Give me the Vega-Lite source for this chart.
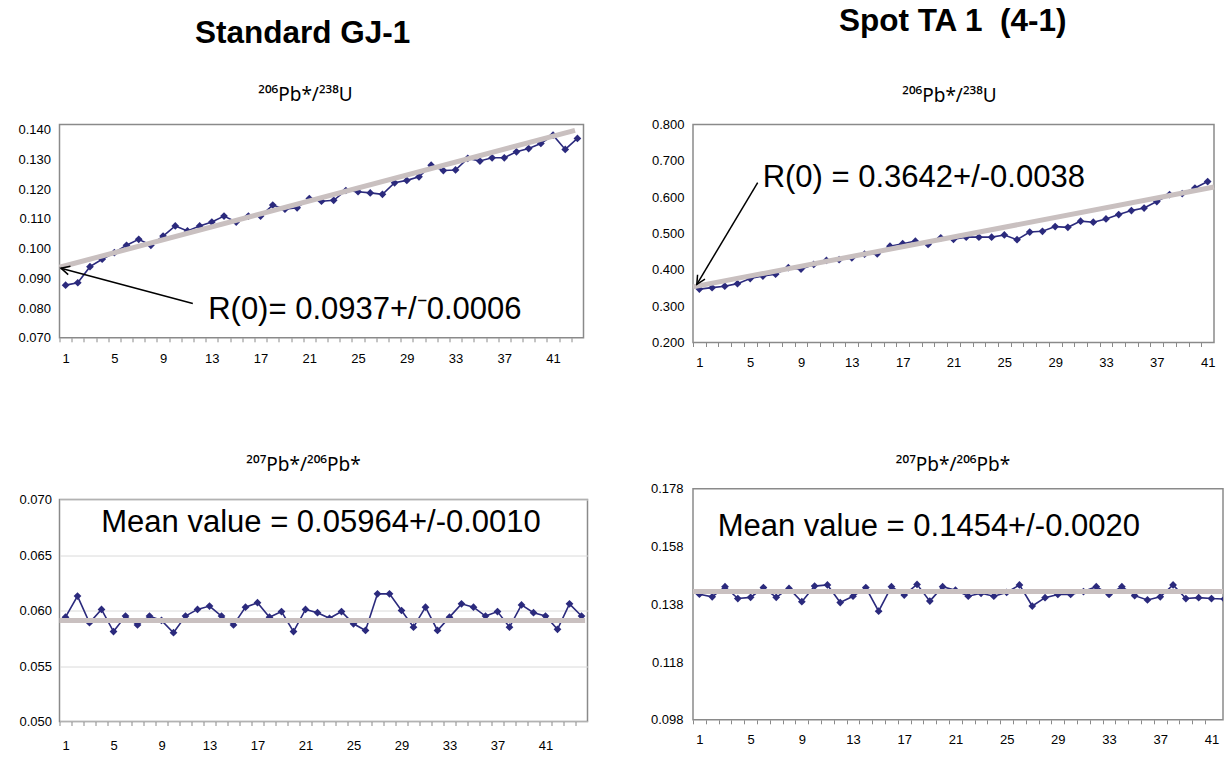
{
  "$schema": "https://vega.github.io/schema/vega-lite/v6.json",
  "background": "white",
  "padding": {"left": 16.5, "top": 5.5, "right": 0, "bottom": 0},
  "config": {
    "view": {"stroke": "#8a8a8a", "strokeWidth": 1.5},
    "font": "Liberation Sans",
    "title": {"font": "Noto Sans, DejaVu Sans", "fontSize": 19, "fontWeight": "normal", "color": "black", "anchor": "middle", "frame": "group"},
    "axis": {"labelFont": "Liberation Sans", "labelFontSize": 13, "labelColor": "black", "ticks": false, "domain": false, "grid": false, "title": null, "labelOverlap": false, "labelFlush": false}
  },
  "datasets": {
    "tl": [
      {"i":1,"v":0.0877},{"i":2,"v":0.0885},{"i":3,"v":0.0939},{"i":4,"v":0.0964},{"i":5,"v":0.0986},{"i":6,"v":0.1011},{"i":7,"v":0.1031},{"i":8,"v":0.1011},{"i":9,"v":0.1042},{"i":10,"v":0.1076},
      {"i":11,"v":0.1059},{"i":12,"v":0.1076},{"i":13,"v":0.1089},{"i":14,"v":0.1109},{"i":15,"v":0.1089},{"i":16,"v":0.1109},{"i":17,"v":0.1109},{"i":18,"v":0.1146},{"i":19,"v":0.1132},{"i":20,"v":0.1137},
      {"i":21,"v":0.1168},{"i":22,"v":0.1159},{"i":23,"v":0.1162},{"i":24,"v":0.1195},{"i":25,"v":0.1191},{"i":26,"v":0.1187},{"i":27,"v":0.1182},{"i":28,"v":0.1221},{"i":29,"v":0.1229},{"i":30,"v":0.1241},
      {"i":31,"v":0.1280},{"i":32,"v":0.1262},{"i":33,"v":0.1264},{"i":34,"v":0.1303},{"i":35,"v":0.1294},{"i":36,"v":0.1305},{"i":37,"v":0.1305},{"i":38,"v":0.1325},{"i":39,"v":0.1336},{"i":40,"v":0.1353},
      {"i":41,"v":0.1381},{"i":42,"v":0.1333},{"i":43,"v":0.1370}
    ],
    "tl_fit": [{"i":0.5,"v":0.0937},{"i":42.8,"v":0.1397}],
    "tl_note": [{"i":12.7,"v":0.0762,"label":"R(0)= 0.0937+/⁻0.0006"}],
    "tl_arrow": [{"i":11.44,"v":0.0815,"i2":0.62,"v2":0.0934}],
    "tr": [
      {"i":1,"v":0.347},{"i":2,"v":0.351},{"i":3,"v":0.355},{"i":4,"v":0.362},{"i":5,"v":0.376},{"i":6,"v":0.383},{"i":7,"v":0.388},{"i":8,"v":0.406},{"i":9,"v":0.402},{"i":10,"v":0.415},
      {"i":11,"v":0.426},{"i":12,"v":0.428},{"i":13,"v":0.433},{"i":14,"v":0.443},{"i":15,"v":0.444},{"i":16,"v":0.465},{"i":17,"v":0.472},{"i":18,"v":0.479},{"i":19,"v":0.470},{"i":20,"v":0.488},
      {"i":21,"v":0.484},{"i":22,"v":0.490},{"i":23,"v":0.490},{"i":24,"v":0.490},{"i":25,"v":0.496},{"i":26,"v":0.483},{"i":27,"v":0.504},{"i":28,"v":0.506},{"i":29,"v":0.519},{"i":30,"v":0.517},
      {"i":31,"v":0.534},{"i":32,"v":0.531},{"i":33,"v":0.540},{"i":34,"v":0.552},{"i":35,"v":0.563},{"i":36,"v":0.570},{"i":37,"v":0.588},{"i":38,"v":0.607},{"i":39,"v":0.610},{"i":40,"v":0.625},
      {"i":41,"v":0.643}
    ],
    "tr_fit": [{"i":0.5,"v":0.353},{"i":41.5,"v":0.628}],
    "tr_note": [{"i":5.98,"v":0.628,"label":"R(0) = 0.3642+/-0.0038"}],
    "tr_arrow": [{"i":5.59,"v":0.64,"i2":0.8,"v2":0.36}],
    "bl": [
      {"i":1,"v":0.0594},{"i":2,"v":0.0613},{"i":3,"v":0.0589},{"i":4,"v":0.0601},{"i":5,"v":0.0581},{"i":6,"v":0.0595},{"i":7,"v":0.0587},{"i":8,"v":0.0595},{"i":9,"v":0.0591},{"i":10,"v":0.0580},
      {"i":11,"v":0.0595},{"i":12,"v":0.0601},{"i":13,"v":0.0604},{"i":14,"v":0.0595},{"i":15,"v":0.0587},{"i":16,"v":0.0603},{"i":17,"v":0.0607},{"i":18,"v":0.0594},{"i":19,"v":0.0599},{"i":20,"v":0.0581},
      {"i":21,"v":0.0601},{"i":22,"v":0.0598},{"i":23,"v":0.0593},{"i":24,"v":0.0599},{"i":25,"v":0.0588},{"i":26,"v":0.0582},{"i":27,"v":0.0615},{"i":28,"v":0.0615},{"i":29,"v":0.0600},{"i":30,"v":0.0585},
      {"i":31,"v":0.0603},{"i":32,"v":0.0582},{"i":33,"v":0.0594},{"i":34,"v":0.0606},{"i":35,"v":0.0603},{"i":36,"v":0.0595},{"i":37,"v":0.0599},{"i":38,"v":0.0585},{"i":39,"v":0.0605},{"i":40,"v":0.0598},
      {"i":41,"v":0.0595},{"i":42,"v":0.0583},{"i":43,"v":0.0606},{"i":44,"v":0.0595}
    ],
    "bl_fit": [{"i":0.5,"v":0.0591},{"i":44.3,"v":0.0591}],
    "bl_note": [{"i":3.98,"v":0.0671,"label":"Mean value = 0.05964+/-0.0010"}],
    "br": [
      {"i":1,"v":0.1415},{"i":2,"v":0.1406},{"i":3,"v":0.1441},{"i":4,"v":0.1400},{"i":5,"v":0.1404},{"i":6,"v":0.1438},{"i":7,"v":0.1404},{"i":8,"v":0.1435},{"i":9,"v":0.1389},{"i":10,"v":0.1443},
      {"i":11,"v":0.1447},{"i":12,"v":0.1386},{"i":13,"v":0.1408},{"i":14,"v":0.1438},{"i":15,"v":0.1356},{"i":16,"v":0.1441},{"i":17,"v":0.1412},{"i":18,"v":0.1449},{"i":19,"v":0.1391},{"i":20,"v":0.1441},
      {"i":21,"v":0.1429},{"i":22,"v":0.1408},{"i":23,"v":0.1418},{"i":24,"v":0.1408},{"i":25,"v":0.1421},{"i":26,"v":0.1447},{"i":27,"v":0.1374},{"i":28,"v":0.1403},{"i":29,"v":0.1414},{"i":30,"v":0.1414},
      {"i":31,"v":0.1424},{"i":32,"v":0.1441},{"i":33,"v":0.1414},{"i":34,"v":0.1441},{"i":35,"v":0.1410},{"i":36,"v":0.1395},{"i":37,"v":0.1406},{"i":38,"v":0.1447},{"i":39,"v":0.1400},{"i":40,"v":0.1403},
      {"i":41,"v":0.1400},{"i":42,"v":0.1398}
    ],
    "br_fit": [{"i":0.5,"v":0.1424},{"i":42,"v":0.1424}],
    "br_note": [{"i":2.43,"v":0.1615,"label":"Mean value = 0.1454+/-0.0020"}]
  },
  "hconcat": [
    {
      "title": {"text": [" ", "Standard GJ-1"], "lineHeight": 10, "font": "Liberation Sans", "fontSize": 31.5, "fontWeight": "bold", "offset": 36, "dx": -4, "frame": "bounds"},
      "spacing": 87,
      "vconcat": [
        {
          "width": 524, "height": 213.3,
          "title": {"text": "²⁰⁶Pb*/²³⁸U", "offset": 15.2, "dx": -16},
          "layer": [
            {
              "data": {"name": "tl"},
              "mark": {"type": "line", "color": "#2b2a7d", "strokeWidth": 1.6, "point": {"shape": "diamond", "size": 60, "filled": true, "color": "#2b2a7d", "opacity": 1}},
              "encoding": {
                "x": {"field": "i", "type": "quantitative", "scale": {"domain": [0.5, 43.5], "nice": false, "zero": false},
                      "axis": {"tickCount": 43, "ticks": true, "tickSize": 4, "tickColor": "#8a8a8a", "tickOffset": -6.1, "labelOffset": 6.1, "labelPadding": 11, "labelOverlap": false, "labelExpr": "(datum.value - 1) % 4 == 0 ? datum.label : ''"}},
                "y": {"field": "v", "type": "quantitative", "scale": {"domain": [0.07, 0.14168], "nice": false, "zero": false},
                      "axis": {"values": [0.07, 0.08, 0.09, 0.1, 0.11, 0.12, 0.13, 0.14], "tickCount": 20, "format": ".3f", "labelPadding": 9, "labelOverlap": false}}
              }
            },
            {
              "data": {"name": "tl_fit"},
              "mark": {"type": "line", "color": "#c9c0c0", "strokeWidth": 5},
              "encoding": {"x": {"field": "i", "type": "quantitative"}, "y": {"field": "v", "type": "quantitative"}}
            },
            {
              "data": {"name": "tl_note"},
              "mark": {"type": "text", "align": "left", "baseline": "alphabetic", "fontSize": 31, "font": "Liberation Sans", "color": "black"},
              "encoding": {"x": {"field": "i", "type": "quantitative"}, "y": {"field": "v", "type": "quantitative"}, "text": {"field": "label"}}
            },
            {
              "data": {"name": "tl_arrow"},
              "mark": {"type": "rule", "color": "black", "strokeWidth": 1.5},
              "encoding": {"x": {"field": "i", "type": "quantitative"}, "y": {"field": "v", "type": "quantitative"}, "x2": {"field": "i2"}, "y2": {"field": "v2"}}
            },
            {
              "data": {"name": "tl_arrow"},
              "mark": {"type": "point", "shape": "M-0.5,1L0,0L0.5,1", "filled": false, "stroke": "black", "strokeWidth": 1.5, "size": 300, "opacity": 1, "angle": 285},
              "encoding": {"x": {"field": "i2", "type": "quantitative"}, "y": {"field": "v2", "type": "quantitative"}}
            }
          ]
        },
        {
          "width": 528, "height": 222,
          "title": {"text": "²⁰⁷Pb*/²⁰⁶Pb*", "offset": 18.5, "dx": -20},
          "layer": [
            {
              "data": {"name": "bl"},
              "mark": {"type": "line", "color": "#2b2a7d", "strokeWidth": 1.6, "point": {"shape": "diamond", "size": 60, "filled": true, "color": "#2b2a7d", "opacity": 1}},
              "encoding": {
                "x": {"field": "i", "type": "quantitative", "scale": {"domain": [0.5, 44.5], "nice": false, "zero": false},
                      "axis": {"tickCount": 44, "ticks": true, "tickSize": 4, "tickColor": "#8a8a8a", "tickOffset": -6, "labelOffset": 6, "labelPadding": 14, "labelOverlap": false, "labelExpr": "(datum.value - 1) % 4 == 0 ? datum.label : ''"}},
                "y": {"field": "v", "type": "quantitative", "scale": {"domain": [0.05, 0.07], "nice": false, "zero": false},
                      "axis": {"values": [0.05, 0.055, 0.06, 0.065, 0.07], "tickCount": 20, "format": ".3f", "labelPadding": 8, "labelOverlap": false, "grid": true, "gridColor": "#dadada", "gridWidth": 1}}
              }
            },
            {
              "data": {"name": "bl_fit"},
              "mark": {"type": "line", "color": "#c9c0c0", "strokeWidth": 5},
              "encoding": {"x": {"field": "i", "type": "quantitative"}, "y": {"field": "v", "type": "quantitative"}}
            },
            {
              "data": {"name": "bl_note"},
              "mark": {"type": "text", "align": "left", "baseline": "alphabetic", "fontSize": 31, "font": "Liberation Sans", "color": "black"},
              "encoding": {"x": {"field": "i", "type": "quantitative"}, "y": {"field": "v", "type": "quantitative"}, "text": {"field": "label"}}
            }
          ]
        }
      ]
    },
    {
      "title": {"text": "Spot TA 1\u00a0 (4-1)", "font": "Liberation Sans", "fontSize": 31.5, "fontWeight": "bold", "offset": 49, "dx": 15.5, "frame": "bounds"},
      "spacing": 84.3,
      "vconcat": [
        {
          "width": 521, "height": 218,
          "title": {"text": "²⁰⁶Pb*/²³⁸U", "offset": 12.5, "dx": -4},
          "layer": [
            {
              "data": {"name": "tr"},
              "mark": {"type": "line", "color": "#2b2a7d", "strokeWidth": 1.6, "point": {"shape": "diamond", "size": 60, "filled": true, "color": "#2b2a7d", "opacity": 1}},
              "encoding": {
                "x": {"field": "i", "type": "quantitative", "scale": {"domain": [0.5, 41.5], "nice": false, "zero": false},
                      "axis": {"tickCount": 41, "ticks": true, "tickSize": 4, "tickColor": "#8a8a8a", "tickOffset": -6.35, "labelOffset": 6.35, "labelPadding": 10, "labelOverlap": false, "labelExpr": "(datum.value - 1) % 4 == 0 ? datum.label : ''"}},
                "y": {"field": "v", "type": "quantitative", "scale": {"domain": [0.2, 0.8], "nice": false, "zero": false},
                      "axis": {"values": [0.2, 0.3, 0.4, 0.5, 0.6, 0.7, 0.8], "tickCount": 20, "format": ".3f", "labelPadding": 9, "labelOverlap": false}}
              }
            },
            {
              "data": {"name": "tr_fit"},
              "mark": {"type": "line", "color": "#c9c0c0", "strokeWidth": 5},
              "encoding": {"x": {"field": "i", "type": "quantitative"}, "y": {"field": "v", "type": "quantitative"}}
            },
            {
              "data": {"name": "tr_note"},
              "mark": {"type": "text", "align": "left", "baseline": "alphabetic", "fontSize": 31, "font": "Liberation Sans", "color": "black"},
              "encoding": {"x": {"field": "i", "type": "quantitative"}, "y": {"field": "v", "type": "quantitative"}, "text": {"field": "label"}}
            },
            {
              "data": {"name": "tr_arrow"},
              "mark": {"type": "rule", "color": "black", "strokeWidth": 1.5},
              "encoding": {"x": {"field": "i", "type": "quantitative"}, "y": {"field": "v", "type": "quantitative"}, "x2": {"field": "i2"}, "y2": {"field": "v2"}}
            },
            {
              "data": {"name": "tr_arrow"},
              "mark": {"type": "point", "shape": "M-0.5,1L0,0L0.5,1", "filled": false, "stroke": "black", "strokeWidth": 1.5, "size": 300, "opacity": 1, "angle": 211},
              "encoding": {"x": {"field": "i2", "type": "quantitative"}, "y": {"field": "v2", "type": "quantitative"}}
            }
          ]
        },
        {
          "width": 530, "height": 231,
          "title": {"text": "²⁰⁷Pb*/²⁰⁶Pb*", "offset": 8.2, "dx": -5},
          "layer": [
            {
              "data": {"name": "br"},
              "mark": {"type": "line", "color": "#2b2a7d", "strokeWidth": 1.6, "clip": true, "point": {"shape": "diamond", "size": 60, "filled": true, "color": "#2b2a7d", "opacity": 1, "clip": true}},
              "encoding": {
                "x": {"field": "i", "type": "quantitative", "scale": {"domain": [0.5, 41.9], "nice": false, "zero": false},
                      "axis": {"tickCount": 42, "ticks": true, "tickSize": 4, "tickColor": "#8a8a8a", "tickOffset": -6.4, "labelOffset": 6.4, "labelPadding": 10, "labelOverlap": false, "labelExpr": "(datum.value - 1) % 4 == 0 ? datum.label : ''"}},
                "y": {"field": "v", "type": "quantitative", "scale": {"domain": [0.098, 0.178], "nice": false, "zero": false},
                      "axis": {"values": [0.098, 0.118, 0.138, 0.158, 0.178], "tickCount": 20, "format": ".3f", "labelPadding": 10, "labelOverlap": false}}
              }
            },
            {
              "data": {"name": "br_fit"},
              "mark": {"type": "line", "color": "#c9c0c0", "strokeWidth": 5, "clip": true},
              "encoding": {"x": {"field": "i", "type": "quantitative"}, "y": {"field": "v", "type": "quantitative"}}
            },
            {
              "data": {"name": "br_note"},
              "mark": {"type": "text", "align": "left", "baseline": "alphabetic", "fontSize": 31, "font": "Liberation Sans", "color": "black"},
              "encoding": {"x": {"field": "i", "type": "quantitative"}, "y": {"field": "v", "type": "quantitative"}, "text": {"field": "label"}}
            }
          ]
        }
      ]
    }
  ],
  "spacing": 52.5,
  "align": "each"
}
